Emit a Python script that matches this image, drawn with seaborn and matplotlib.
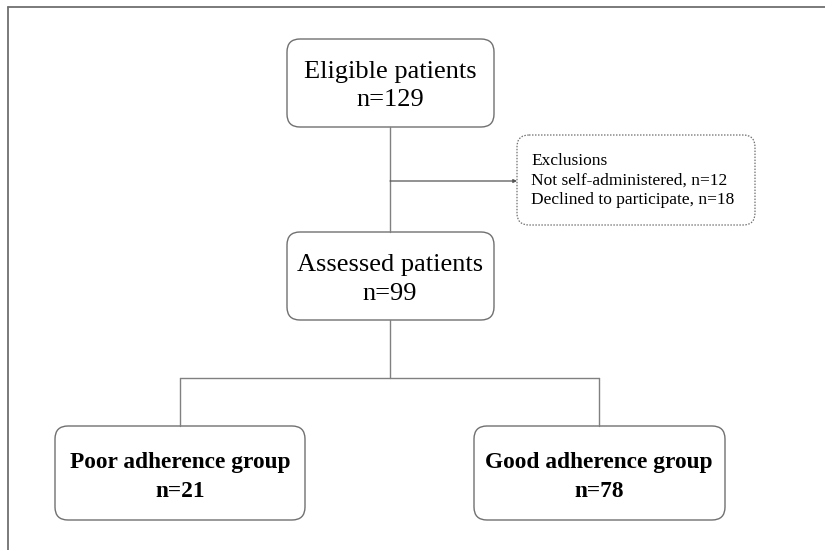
import matplotlib
matplotlib.use("Agg")
import matplotlib.pyplot as plt
from matplotlib.patches import FancyBboxPatch
import seaborn as sns

# ---- data ----
box_titles = ["Eligible patients", "Assessed patients", "Poor adherence group", "Good adherence group"]
box_counts = [129, 99, 21, 78]
exclusion_labels = ["Not self-administered", "Declined to participate"]
exclusion_counts = [12, 18]

sns.set_theme(style="white")
plt.rcParams['font.family'] = ['Liberation Serif', 'DejaVu Serif']
plt.rcParams['text.color'] = 'black'

fig = plt.figure(figsize=(8.25, 5.5), dpi=100)
ax = fig.add_axes([0, 0, 1, 1])
ax.set_xlim(0, 825)
ax.set_ylim(550, 0)
ax.axis("off")

edge = "#707070"
line_c = "#808080"

# outer frame (top and left)
ax.plot([8, 825], [7, 7], color=edge, lw=1.3)
ax.plot([8, 8], [7, 550], color=edge, lw=1.3)

def rbox(x0, y0, x1, y1, ls="-", lw=1.0, r=13):
    p = FancyBboxPatch((x0 + r, y0 + r), (x1 - x0) - 2 * r, (y1 - y0) - 2 * r,
                       boxstyle=f"round,pad={r}", fc="white", ec=edge, lw=lw, ls=ls,
                       mutation_aspect=1)
    ax.add_patch(p)

# connectors
ax.plot([390, 390], [127, 232], color=line_c, lw=1.0)
ax.annotate("", xy=(517, 181), xytext=(390, 181),
            arrowprops=dict(arrowstyle="-|>", color="#555555", lw=0.9,
                            mutation_scale=5, shrinkA=0, shrinkB=0))
ax.plot([390, 390], [320, 378], color=line_c, lw=1.0)
ax.plot([180, 599], [378, 378], color=line_c, lw=1.0)
ax.plot([180, 180], [378, 426], color=line_c, lw=1.0)
ax.plot([599, 599], [378, 426], color=line_c, lw=1.0)

# boxes
rbox(287, 39, 494, 127)
rbox(287, 232, 494, 320)
rbox(55, 426, 305, 520)
rbox(474, 426, 725, 520)
rbox(517, 135, 755, 225, ls=(0, (1.2, 1.2)), lw=0.9, r=12)

# texts
fs_main = 19
kw = dict(ha="center", va="baseline", color="black")
ax.text(390, 78, box_titles[0], fontsize=fs_main, **kw)
ax.text(390, 106, f"n={box_counts[0]}", fontsize=fs_main, **kw)
ax.text(390, 271, box_titles[1], fontsize=fs_main, **kw)
ax.text(390, 300, f"n={box_counts[1]}", fontsize=fs_main, **kw)

fs_bold = 16.8
ax.text(180, 468, box_titles[2], fontsize=fs_bold, fontweight="bold", **kw)
ax.text(180, 497, f"n={box_counts[2]}", fontsize=fs_bold, fontweight="bold", **kw)
ax.text(599, 468, box_titles[3], fontsize=fs_bold, fontweight="bold", **kw)
ax.text(599, 497, f"n={box_counts[3]}", fontsize=fs_bold, fontweight="bold", **kw)

fs_ex = 12.5
ax.text(531, 165, "Exclusions", ha="left", va="baseline", fontsize=fs_ex, color="black")
for i, (lab, c) in enumerate(zip(exclusion_labels, exclusion_counts)):
    ax.text(531, 185 + i * 19.5, f"{lab}, n={c}", ha="left", va="baseline",
            fontsize=fs_ex, color="black")

fig.savefig("out.png", dpi=100, facecolor="white")
